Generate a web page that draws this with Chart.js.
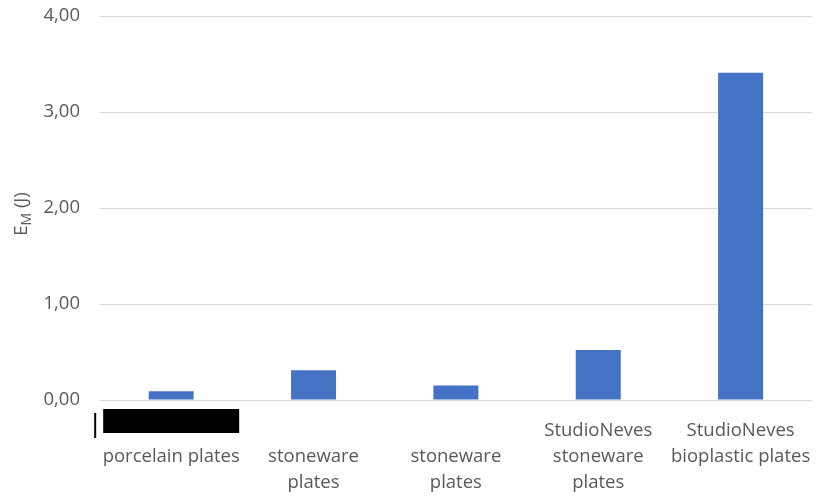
<!DOCTYPE html>
<html>
<head>
<meta charset="utf-8">
<script src="https://cdn.jsdelivr.net/npm/chart.js@4"></script>
<style>
  html, body { margin: 0; padding: 0; background: #fff; }
  #wrap { width: 821px; height: 496px; }
</style>
</head>
<body>
<div id="wrap"><canvas id="energyChart" width="821" height="496"></canvas></div>
<script>
// categories (first line of some labels left blank, wrapped like the sheet)
var categories = [
  ["", "porcelain plates"],
  ["", "stoneware", "plates"],
  ["", "stoneware", "plates"],
  ["StudioNeves", "stoneware", "plates"],
  ["StudioNeves", "bioplastic plates"]
];
var energyValues = [0.09, 0.31, 0.15, 0.52, 3.41];
var yTicks = [0, 1, 2, 3, 4];

var textColor = "#595959";
var fontFamily = "'Open Sans', sans-serif";
var fontSize = 18.5;

// y title with subscript M, plus the black box over the first label
var overlay = {
  id: "overlay",
  afterDraw: function (chart) {
    var ctx = chart.ctx;
    var area = chart.chartArea;
    ctx.save();
    ctx.fillStyle = textColor;
    ctx.translate(27, (area.top + area.bottom) / 2 + 6);
    ctx.rotate(-Math.PI / 2);
    ctx.textBaseline = "alphabetic";
    ctx.font = fontSize + "px " + fontFamily;
    var wE = ctx.measureText("E").width;
    ctx.font = "14px " + fontFamily;
    var wM = ctx.measureText("M").width;
    ctx.font = fontSize + "px " + fontFamily;
    var wJ = ctx.measureText(" (J)").width;
    var x = -(wE + wM + wJ) / 2;
    ctx.fillText("E", x, 0);
    ctx.font = "14px " + fontFamily;
    ctx.fillText("M", x + wE, 4);
    ctx.font = fontSize + "px " + fontFamily;
    ctx.fillText(" (J)", x + wE + wM, 0);
    ctx.restore();

    var cx = chart.scales.x.getPixelForValue(0);
    ctx.save();
    ctx.fillStyle = "#000";
    ctx.fillRect(cx - 68, area.bottom + 9, 136, 24);
    ctx.fillRect(cx - 77, area.bottom + 13, 2, 25);
    ctx.restore();
  }
};

new Chart(document.getElementById("energyChart").getContext("2d"), {
  type: "bar",
  data: {
    labels: categories,
    datasets: [{
      data: energyValues,
      backgroundColor: "#4472C4",
      borderWidth: 0,
      categoryPercentage: 1,
      barPercentage: 0.316
    }]
  },
  options: {
    responsive: false,
    animation: false,
    layout: { padding: { top: 16, right: 8, left: 0, bottom: 0 } },
    plugins: { legend: { display: false }, tooltip: { enabled: false } },
    scales: {
      x: {
        grid: { display: false },
        border: { display: false },
        ticks: {
          color: textColor,
          font: { family: fontFamily, size: fontSize, lineHeight: "26px" },
          maxRotation: 0,
          autoSkip: false,
          padding: 10
        },
        afterFit: function (scale) { scale.height = 96; }
      },
      y: {
        min: 0,
        max: 4,
        afterBuildTicks: function (scale) {
          scale.ticks = yTicks.map(function (v) { return { value: v }; });
        },
        grid: { color: "#d9d9d9", lineWidth: 1, drawTicks: false },
        border: { display: false },
        ticks: {
          color: textColor,
          padding: 20,
          font: { family: fontFamily, size: fontSize },
          callback: function (v) { return v.toFixed(2).replace(".", ","); }
        },
        afterFit: function (scale) {
          scale.width = 100;
          scale.paddingTop = 0;
          scale.paddingBottom = 0;
        }
      }
    }
  },
  plugins: [overlay]
});
</script>
</body>
</html>
